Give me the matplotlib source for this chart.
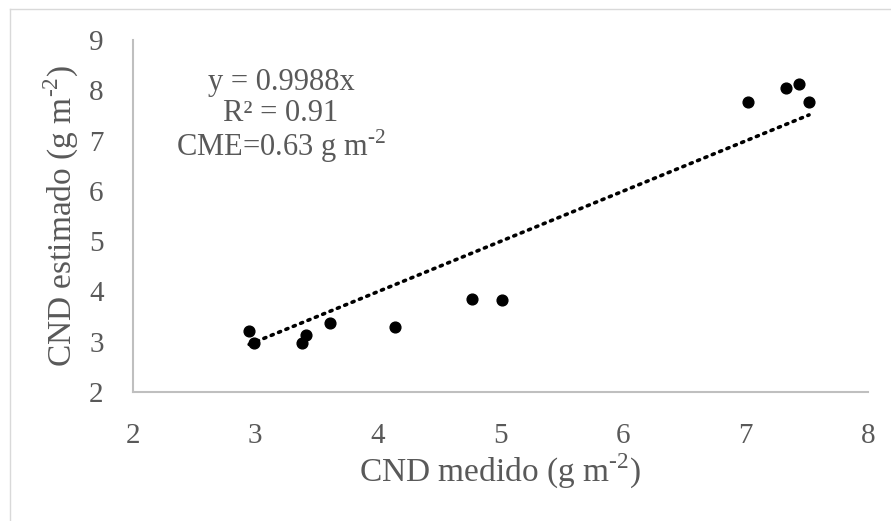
import matplotlib.pyplot as plt
from matplotlib.lines import Line2D
import numpy as np

# Measured vs estimated CND (g m-2)
cnd_medido = [2.95, 2.99, 3.38, 3.41, 3.61, 4.14, 4.77, 5.01, 7.02, 7.33, 7.44, 7.52]
cnd_estimado = [3.22, 2.98, 2.98, 3.14, 3.38, 3.30, 3.84, 3.82, 7.76, 8.04, 8.12, 7.76]
slope = 0.9988
eq_lines = ["y = 0.9988x", "R² = 0.91", "CME=0.63 g m$^{\\text{-2}}$"]
x_ticks = [2, 3, 4, 5, 6, 7, 8]
y_ticks = [2, 3, 4, 5, 6, 7, 8, 9]

plt.rcParams['font.family'] = ['Liberation Serif', 'DejaVu Serif']
plt.rcParams['mathtext.fontset'] = 'custom'
plt.rcParams['mathtext.rm'] = 'Liberation Serif'
gray = '#595959'

fig = plt.figure(figsize=(8.91, 5.21), dpi=100)
ax = fig.add_axes([0.149, 0.2476, 0.825, 0.6755])

ax.scatter(cnd_medido, cnd_estimado, s=60, color='black', zorder=3)

# linear trendline through origin
xs = np.array([min(cnd_medido), max(cnd_medido)])
ax.plot(xs, slope * xs, color='black', linestyle=(0, (0.6, 1.6)), linewidth=2.6,
        dash_capstyle='round', zorder=2)

ax.set_xlim(2, 8)
ax.set_ylim(2, 9)
ax.set_xticks(x_ticks)
ax.set_yticks(y_ticks)
ax.tick_params(length=0, labelsize=21, colors=gray)
ax.tick_params(axis='x', pad=22)
ax.tick_params(axis='y', pad=21)
for s in ['top', 'right']:
    ax.spines[s].set_visible(False)
for s in ['left', 'bottom']:
    ax.spines[s].set_color('#bfbfbf')
    ax.spines[s].set_linewidth(1.5)

ax.set_xlabel('CND medido (g m$^{\\text{-2}}$)', fontsize=24, color=gray, labelpad=2)
ax.set_ylabel('CND estimado (g m$^{\\text{-2}}$)', fontsize=24, color=gray, labelpad=6)

# trendline equation block (baselines in px from top)
baselines = [90, 121, 156]
for t, b in zip(eq_lines, baselines):
    fig.text(281 / 891, 1 - b / 521, t, fontsize=22, color=gray,
             ha='center', va='baseline')

# chart area border (only top and left visible in crop)
fig.add_artist(Line2D([10 / 891, 1], [1 - 9 / 521, 1 - 9 / 521], color='#d9d9d9', linewidth=1))
fig.add_artist(Line2D([10 / 891, 10 / 891], [0, 1 - 9 / 521], color='#d9d9d9', linewidth=1))

fig.savefig('out.png', dpi=100, facecolor='white')
